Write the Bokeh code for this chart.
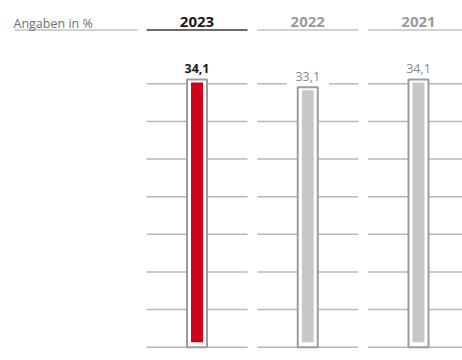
import numpy as np
from bokeh.plotting import figure
from bokeh.models import Range1d, Label, ColumnDataSource
from bokeh.transform import dodge
from bokeh.embed import file_html
from bokeh.resources import INLINE

# ---- data ----
unit_label = "Angaben in %"
years = ["2023", "2022", "2021"]
values = [34.1, 33.1, 34.1]
value_labels = ["34,1", "33,1", "34,1"]

# ---- style / layout ----
W, H = 462, 360
FONT = "Open Sans"
X0_PX, PX_PER_X = 196.5, 110.75      # pixel centre of first column, pixels per column step
BASE_PX, PX_PER_Y = 346.7, 7.85       # baseline (px from top), pixels per value unit
RED, GREY_FILL, FRAME = "#d0021b", "#c8c8c8", "#9c9c9c"
GRID = "#b8b8b8"

def px_x(px):
    return px / PX_PER_X

def y_from_top(px):
    return (BASE_PX - px) / PX_PER_Y

x_range = Range1d(-X0_PX / PX_PER_X, (W - X0_PX) / PX_PER_X)
y_range = Range1d(-(H - BASE_PX) / PX_PER_Y, BASE_PX / PX_PER_Y)

p = figure(width=W, height=H, x_range=x_range, y_range=y_range,
           x_axis_type=None, y_axis_type=None, toolbar_location=None,
           output_backend="svg", min_border=0, outline_line_color=None)
p.min_border_left = p.min_border_right = p.min_border_top = p.min_border_bottom = 0
p.grid.visible = False
p.background_fill_color = "white"
p.border_fill_color = "white"

n = len(years)
xs = list(range(n))
half_col = px_x(50.5)

# decorative gridlines per column
grid_levels = np.linspace(0, y_from_top(83.3), 8)
gx0, gx1, gy = [], [], []
for i in xs:
    for lv in grid_levels:
        gx0.append(i - half_col); gx1.append(i + half_col); gy.append(lv)
p.segment(x0=gx0, y0=gy, x1=gx1, y1=gy, line_color=GRID, line_width=1.5)

# header underlines
hy = y_from_top(29.5)
p.segment(x0=[x_range.start + px_x(14)], y0=[hy], x1=[x_range.start + px_x(137)], y1=[hy],
          line_color="#d2d2d2", line_width=2)
ucol = ["#6a6a6a", "#d2d2d2", "#d2d2d2"]
p.segment(x0=[i - half_col for i in xs], y0=[hy] * n, x1=[i + half_col for i in xs], y1=[hy] * n,
          line_color=ucol, line_width=2)

src = ColumnDataSource(dict(x=xs, value=values, fill=[RED, GREY_FILL, GREY_FILL]))

# frames (drawn above the label backgrounds)
p.vbar(x="x", top="value", bottom=0, width=px_x(20), source=src,
       fill_color="white", line_color=FRAME, line_width=2, level="overlay")
# inner fill
p.vbar(x="x", top=dodge("value", -3 / PX_PER_Y), bottom=5 / PX_PER_Y, width=px_x(12),
       source=src, fill_color="fill", line_color=None, level="overlay")

# value labels
LABEL_GAP = 11 / PX_PER_Y
for i, (v, t) in enumerate(zip(values, value_labels)):
    first = i == 0
    p.add_layout(Label(x=i, y=v + LABEL_GAP, text=t, text_align="center",
                       text_baseline="alphabetic", text_font=FONT, text_font_size="12.5px",
                       text_font_style="bold" if first else "normal",
                       text_color="#1a1a1a" if first else "#8a8a8a",
                       background_fill_color="white", padding=9))

# header texts
p.add_layout(Label(x=13, y=H - 23, x_units="screen", y_units="screen", text=unit_label,
                   text_align="left", text_baseline="alphabetic", text_font=FONT,
                   text_font_size="12.5px", text_color="#707070"))
for i, yr in enumerate(years):
    p.add_layout(Label(x=i, y=H - 21.7, y_units="screen", text=yr, text_align="center",
                       text_baseline="alphabetic", text_font=FONT, text_font_size="15px",
                       text_font_style="bold",
                       text_color="#1a1a1a" if i == 0 else "#9a9a9a"))

open("out.html", "w").write(file_html(p, INLINE))
